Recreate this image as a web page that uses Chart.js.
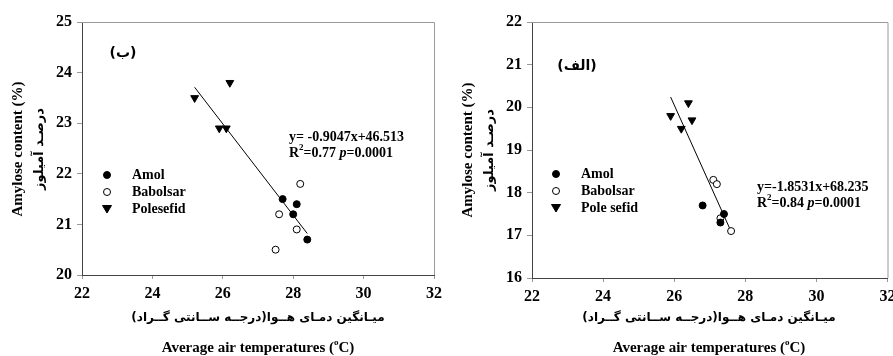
<!DOCTYPE html>
<html lang="fa">
<head>
<meta charset="UTF-8">
<title>Amylose content vs average air temperature</title>
<script src="https://cdn.jsdelivr.net/npm/chart.js"></script>
<style>
  body { margin: 0; background: #fff; }
  .panel { position: absolute; top: 0; overflow: hidden; }
</style>
</head>
<body>
<div class="panel" style="left:0;width:450px;height:356px;"><canvas id="chartB" width="450" height="356"></canvas></div>
<div class="panel" style="left:450px;width:443px;height:356px;"><canvas id="chartA" width="443" height="356"></canvas></div>

<script>
// shared x axis
const xMin = 22, xMax = 32, xStep = 2;

// panel (ب) - left
const bYMin = 20, bYMax = 25;
const bAmolX = [27.7, 28.1, 28.0, 28.4];
const bAmolY = [21.5, 21.4, 21.2, 20.7];
const bBabolsarX = [28.2, 27.6, 28.1, 27.5];
const bBabolsarY = [21.8, 21.2, 20.9, 20.5];
const bPoleX = [25.2, 26.2, 25.9, 26.1];
const bPoleY = [23.5, 23.8, 22.9, 22.9];
const bFitX = [25.2, 28.4];
const bFitY = [23.71, 20.82];
const bLegend = ['Amol', 'Babolsar', 'Polesefid'];

// panel (الف) - right
const aYMin = 16, aYMax = 22;
const aAmolX = [26.8, 27.4, 27.3];
const aAmolY = [17.7, 17.5, 17.3];
const aBabolsarX = [27.1, 27.2, 27.3, 27.6];
const aBabolsarY = [18.3, 18.2, 17.4, 17.1];
const aPoleX = [25.9, 26.4, 26.2, 26.5];
const aPoleY = [19.8, 20.1, 19.5, 19.7];
const aFitX = [25.9, 27.6];
const aFitY = [20.24, 17.09];
const aLegend = ['Amol', 'Babolsar', 'Pole sefid'];

const serif = "'Liberation Serif', 'Times New Roman', serif";
const persian = "'DejaVu Sans', sans-serif";

function pts(xs, ys) {
    return xs.map((x, i) => ({ x: x, y: ys[i] }));
}

// draw a line of text made of pieces (for superscripts / italics)
function drawPieces(ctx, pieces, x, y) {
    ctx.textAlign = 'left';
    ctx.textBaseline = 'middle';
    pieces.forEach(p => {
        ctx.font = p.font;
        ctx.fillText(p.t, x, y + (p.dy || 0));
        x += ctx.measureText(p.t).width;
    });
}
function piecesWidth(ctx, pieces) {
    let w = 0;
    pieces.forEach(p => { ctx.font = p.font; w += ctx.measureText(p.t).width; });
    return w;
}

const extras = {
    id: 'extras',
    afterDraw(chart) {
        const o = chart.options.plugins.extras;
        const ctx = chart.ctx;
        const a = chart.chartArea;
        ctx.save();

        // top and right frame
        ctx.strokeStyle = '#9a9a9a';
        ctx.lineWidth = 1;
        ctx.beginPath();
        ctx.moveTo(a.left, a.top + 0.5);
        ctx.lineTo(a.right + 0.5, a.top + 0.5);
        ctx.lineTo(a.right + 0.5, a.bottom);
        ctx.stroke();

        ctx.fillStyle = '#000';

        // y axis title (two lines, rotated)
        ctx.save();
        ctx.translate(o.yTitleX, o.yTitleY);
        ctx.rotate(-Math.PI / 2);
        ctx.textAlign = 'center';
        ctx.textBaseline = 'middle';
        ctx.font = 'bold 15px ' + serif;
        ctx.fillText('Amylose content (%)', 0, 0);
        ctx.font = 'bold 13px ' + persian;
        ctx.fillText('درصـد آمیلوز', 0, 22);
        ctx.restore();

        // x axis titles
        ctx.textAlign = 'center';
        ctx.textBaseline = 'middle';
        ctx.font = 'bold 12px ' + persian;
        ctx.fillText('میـانگین دمـای هــوا(درجــه ســانتی گــراد)', o.xTitleX, 318);
        const eng = [
            { t: 'Average air temperatures (', font: 'bold 15px ' + serif },
            { t: 'o', font: 'bold 9px ' + serif, dy: -5 },
            { t: 'C)', font: 'bold 15px ' + serif }
        ];
        drawPieces(ctx, eng, o.xTitleX - piecesWidth(ctx, eng) / 2, 348);

        // panel label
        ctx.textAlign = 'center';
        ctx.font = 'bold 14px ' + persian;
        ctx.fillText(o.panelLabel, o.panelX, o.panelY);

        // legend
        const ds = chart.data.datasets;
        o.legend.forEach((name, i) => {
            const y = o.legendY + i * 17;
            const d = ds[i];
            ctx.beginPath();
            if (d.pointStyle === 'triangle') {
                ctx.moveTo(o.legendX - 4.5, y - 3.5);
                ctx.lineTo(o.legendX + 4.5, y - 3.5);
                ctx.lineTo(o.legendX, y + 4);
                ctx.closePath();
            } else {
                ctx.arc(o.legendX, y, 3.5, 0, Math.PI * 2);
            }
            ctx.fillStyle = d.backgroundColor;
            ctx.fill();
            ctx.strokeStyle = '#000';
            ctx.stroke();
            ctx.fillStyle = '#000';
            ctx.font = 'bold 14px ' + serif;
            ctx.textAlign = 'left';
            ctx.textBaseline = 'middle';
            ctx.fillText(name, o.legendX + 25, y);
        });

        // equation
        ctx.font = 'bold 14px ' + serif;
        ctx.textAlign = 'left';
        ctx.fillText(o.equation, o.eqX, o.eqY);
        drawPieces(ctx, [
            { t: 'R', font: 'bold 14px ' + serif },
            { t: '2', font: 'bold 9px ' + serif, dy: -5 },
            { t: '=' + o.r2 + ' ', font: 'bold 14px ' + serif },
            { t: 'p', font: 'italic bold 14px ' + serif },
            { t: '=0.0001', font: 'bold 14px ' + serif }
        ], o.eqX, o.eqY + 16);

        ctx.restore();
    }
};

function makeChart(id, cfg) {
    const datasets = [
        {
            label: cfg.legend[0], data: cfg.amol,
            pointStyle: 'circle', pointRadius: 3.5,
            backgroundColor: '#000', borderColor: '#000', borderWidth: 1
        },
        {
            label: cfg.legend[1], data: cfg.babolsar,
            pointStyle: 'circle', pointRadius: 3.5,
            backgroundColor: '#fff', borderColor: '#000', borderWidth: 1
        },
        {
            label: cfg.legend[2], data: cfg.pole,
            pointStyle: 'triangle', pointRadius: 4.5, rotation: 180,
            backgroundColor: '#000', borderColor: '#000', borderWidth: 1
        },
        {
            type: 'line', label: 'fit', data: cfg.fit,
            showLine: true, pointRadius: 0, borderWidth: 1,
            borderColor: '#000', fill: false
        }
    ];

    return new Chart(document.getElementById(id), {
        type: 'scatter',
        data: { datasets: datasets },
        plugins: [extras],
        options: {
            responsive: false,
            animation: false,
            layout: { padding: { top: 22, right: cfg.padRight, left: 0, bottom: 0 } },
            plugins: {
                legend: { display: false },
                tooltip: { enabled: false },
                extras: cfg.extras
            },
            scales: {
                x: {
                    type: 'linear', min: xMin, max: xMax,
                    ticks: { stepSize: xStep, color: '#000', padding: 5, font: { family: serif, size: 16, weight: 'bold' } },
                    grid: { drawOnChartArea: false, tickLength: 4, color: '#999' },
                    border: { color: '#444' },
                    afterFit: s => { s.height = cfg.xHeight; s.paddingLeft = 0; s.paddingRight = 0; }
                },
                y: {
                    type: 'linear', min: cfg.yMin, max: cfg.yMax,
                    ticks: { stepSize: 1, color: '#000', padding: 5, font: { family: serif, size: 16, weight: 'bold' } },
                    grid: { drawOnChartArea: false, tickLength: 5, color: '#999' },
                    border: { color: '#444' },
                    afterFit: s => { s.width = 82; s.paddingTop = 0; s.paddingBottom = 0; }
                }
            }
        }
    });
}

makeChart('chartB', {
    legend: bLegend,
    amol: pts(bAmolX, bAmolY),
    babolsar: pts(bBabolsarX, bBabolsarY),
    pole: pts(bPoleX, bPoleY),
    fit: pts(bFitX, bFitY),
    yMin: bYMin, yMax: bYMax,
    padRight: 16, xHeight: 81,
    extras: {
        yTitleX: 18, yTitleY: 149, xTitleX: 258,
        panelLabel: '(ب)', panelX: 123, panelY: 53,
        legend: bLegend, legendX: 107, legendY: 175,
        equation: 'y= -0.9047x+46.513', r2: '0.77', eqX: 289, eqY: 137
    }
});

makeChart('chartA', {
    legend: aLegend,
    amol: pts(aAmolX, aAmolY),
    babolsar: pts(aBabolsarX, aBabolsarY),
    pole: pts(aPoleX, aPoleY),
    fit: pts(aFitX, aFitY),
    yMin: aYMin, yMax: aYMax,
    padRight: 5, xHeight: 78,
    extras: {
        yTitleX: 18, yTitleY: 150, xTitleX: 259,
        panelLabel: '(الف)', panelX: 127, panelY: 66,
        legend: aLegend, legendX: 106, legendY: 174,
        equation: 'y=-1.8531x+68.235', r2: '0.84', eqX: 307, eqY: 187
    }
});
</script>
</body>
</html>
